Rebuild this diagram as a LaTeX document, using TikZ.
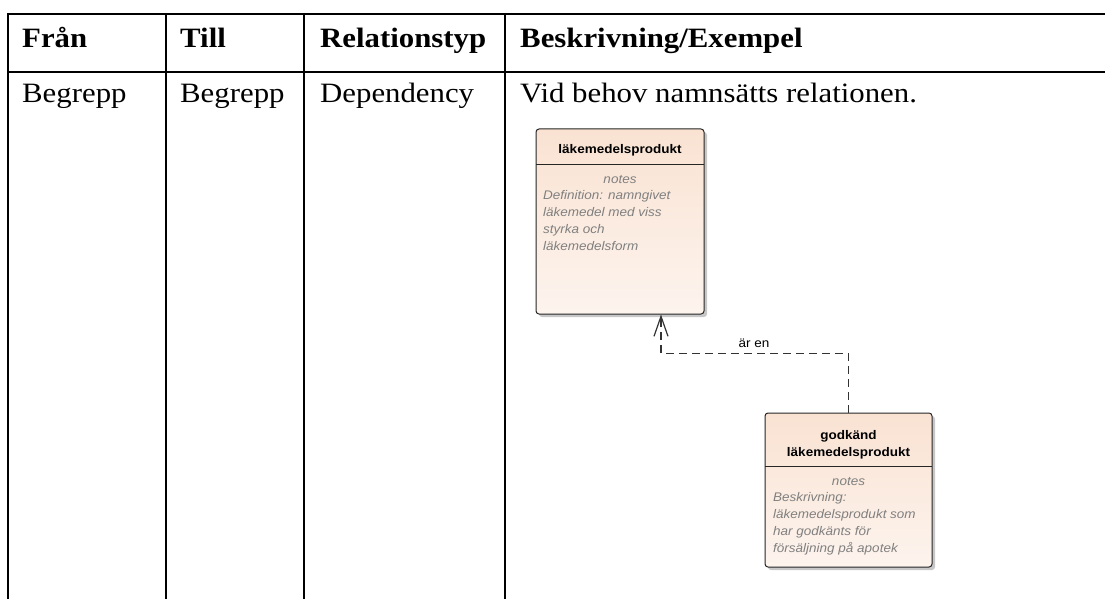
\documentclass[tikz,border=0pt]{standalone}
\usepackage{fontspec}
\setmainfont[FakeStretch=1.1]{Liberation Serif}
\newfontfamily\umlfont[FakeStretch=1.08]{Liberation Sans}
\usetikzlibrary{shadows,arrows.meta}
\definecolor{peachtop}{RGB}{249,226,210}
\definecolor{peachbot}{RGB}{253,244,238}
\definecolor{notegray}{RGB}{128,128,128}
\tikzset{
  grid/.style={line width=2pt, black},
  hdr/.style={anchor=base west, inner sep=0pt, font=\fontsize{28}{32}\selectfont\bfseries},
  cell/.style={anchor=base west, inner sep=0pt, font=\fontsize{28}{32}\selectfont},
  umlbox/.style={draw=black!85, line width=1pt, rounded corners=3pt,
    top color=peachtop, bottom color=peachbot, inner sep=0pt,
    drop shadow={shadow xshift=3pt, shadow yshift=-3pt, fill=black!22, opacity=1}},
  ttl/.style={inner sep=0pt, align=center, font=\umlfont\fontsize{12.5}{17}\selectfont\bfseries},
  notehead/.style={inner sep=0pt, text=notegray, font=\umlfont\fontsize{12.5}{17}\selectfont\itshape},
  notebody/.style={inner sep=0pt, anchor=north west, align=left, text=notegray, font=\umlfont\fontsize{12.5}{17.2}\selectfont\itshape},
  dep/.style={draw=black!80, line width=1.2pt, dash pattern=on 8pt off 5pt,
    -{Straight Barb[length=20pt,width=14pt,line width=1.2pt]}},
  lbl/.style={inner sep=0pt, font=\umlfont\fontsize{12.5}{15}\selectfont},
}
\begin{document}
\begin{tikzpicture}[x=1pt,y=-1pt]
\useasboundingbox (0,0) rectangle (1105,599);
% table grid
\coordinate (tl) at (8,14);
\coordinate (tr) at (1105,14);
\coordinate (rl) at (8,72);
\coordinate (rr) at (1105,72);
\draw[grid] (tl) -- (tr);
\draw[grid] (rl) -- (rr);
\coordinate (c0t) at (8,13); \coordinate (c0b) at (8,599);
\coordinate (c1t) at (166,13); \coordinate (c1b) at (166,599);
\coordinate (c2t) at (304,13); \coordinate (c2b) at (304,599);
\coordinate (c3t) at (505,13); \coordinate (c3b) at (505,599);
\draw[grid] (c0t) -- (c0b);
\draw[grid] (c1t) -- (c1b);
\draw[grid] (c2t) -- (c2b);
\draw[grid] (c3t) -- (c3b);
% headers
\node[hdr] (h1) at (22,48) {Från};
\node[hdr] (h2) at (180,48) {Till};
\node[hdr] (h3) at (320,48) {Relationstyp};
\node[hdr] (h4) at (520,48) {Beskrivning/Exempel};
% row
\node[cell] (r1) at (22,103) {Begrepp};
\node[cell] (r2) at (180,103) {Begrepp};
\node[cell] (r3) at (320,103) {Dependency};
\node[cell] (r4) at (520,103) {Vid behov namnsätts relationen.};
% box 1
\node[umlbox, minimum width=168pt, minimum height=185pt] (b1) at (620,221.5) {};
\coordinate (b1dl) at (536,164); \coordinate (b1dr) at (704,164);
\draw[black!85, line width=1pt] (b1dl) -- (b1dr);
\node[ttl] (b1t) at (620,150) {läkemedelsprodukt};
\node[notehead] (b1n) at (620,180) {notes};
\node[notebody] (b1b) at (543,190) {Definition: namngivet\\läkemedel med viss\\styrka och\\läkemedelsform};
% box 2
\node[umlbox, minimum width=167pt, minimum height=154pt] (b2) at (848.5,490) {};
\coordinate (b2dl) at (765,466); \coordinate (b2dr) at (932,466);
\draw[black!85, line width=1pt] (b2dl) -- (b2dr);
\node[ttl] (b2t) at (848.5,444.5) {godkänd\\läkemedelsprodukt};
\node[notehead] (b2n) at (848.5,482) {notes};
\node[notebody] (b2b) at (773,492) {Beskrivning:\\läkemedelsprodukt som\\har godkänts för\\försäljning på apotek};
% dependency
\draw[dep] (b2.north) -- ++(0,-59) -| ([xshift=41pt]b1.south);
\node[lbl] (lab) at (754,343) {är en};
\end{tikzpicture}
\end{document}
